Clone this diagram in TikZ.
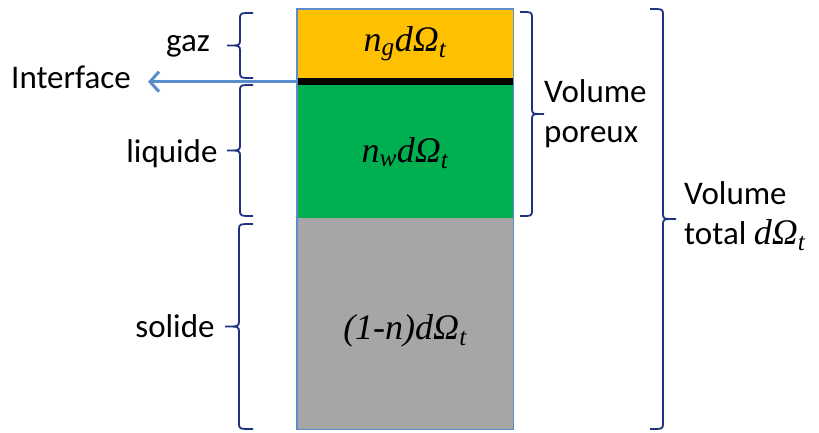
\documentclass[tikz,border=0pt]{standalone}
\usepackage{fontspec}
\setmainfont{Carlito}
\newfontfamily\mfont{Liberation Serif}
\usetikzlibrary{arrows.meta}
\definecolor{gasc}{RGB}{255,192,0}
\definecolor{liqc}{RGB}{0,176,80}
\definecolor{solc}{RGB}{166,166,166}
\definecolor{edgec}{RGB}{91,141,206}
\definecolor{bracec}{RGB}{30,50,130}
\newcommand{\mybrace}[4]{% x, y1, y2, tipx
  \draw[bracestyle] ({#1+(#1-#4)},#2) .. controls (#1,#2) .. (#1,{#2+6})
   -- (#1,{(#2+#3)/2-6}) .. controls (#1,{(#2+#3)/2}) .. (#4,{(#2+#3)/2})
   .. controls (#1,{(#2+#3)/2}) .. (#1,{(#2+#3)/2+6})
   -- (#1,{#3-6}) .. controls (#1,#3) .. ({#1+(#1-#4)},#3);}
\tikzset{
  bracestyle/.style={draw=bracec, line width=1.8pt},
  layer/.style={draw=none, inner sep=0pt, anchor=north west},
  lbl/.style={font=\fontsize{33}{40}\selectfont, inner sep=0pt},
  mlbl/.style={font=\fontsize{36}{40}\selectfont\mfont\itshape, inner sep=0pt},
}
\begin{document}
\begin{tikzpicture}[x=1pt,y=-1pt]
\useasboundingbox (0,0) rectangle (819,433);
% layers
\node[layer, fill=gasc, minimum width=216pt, minimum height=69pt] (gas) at (297,9) {};
\node[layer, fill=black, minimum width=216pt, minimum height=7pt] (iface) at (297,78) {};
\node[layer, fill=liqc, minimum width=216pt, minimum height=133pt] (liq) at (297,85) {};
\node[layer, fill=solc, minimum width=216pt, minimum height=211pt] (sol) at (297,218) {};
\draw[edgec, line width=1.5pt] (gas.north west) rectangle (sol.south east);
% layer texts
\node[mlbl] (tg) at (405,44) {n\textsubscript{g}dΩ\textsubscript{t}};
\node[mlbl] (tw) at (405,153) {n\textsubscript{w}dΩ\textsubscript{t}};
\node[mlbl] (ts) at (405,331) {(1-n)dΩ\textsubscript{t}};
% left labels
\node[lbl] (lg) at (188,46) {gaz};
\node[lbl] (li) at (71,77) {Interface};
\node[lbl] (ll) at (172,154) {liquide};
\node[lbl] (ls) at (175,326) {solide};
% right labels
\node[lbl, anchor=west, align=left] (vp) at (544,114) {Volume\\poreux};
\node[lbl, anchor=west, align=left] (vt) at (684,216) {Volume\\total {\mfont\itshape\fontsize{36}{40}\selectfont dΩ\textsubscript{t}}};
% interface arrow
\coordinate (ae) at (148,0);
\draw[edgec, line width=3pt, -{Straight Barb[length=9pt,width=20pt]}] (iface.west) -- (iface.west -| ae);
% braces
\mybrace{240}{13}{78}{227}
\mybrace{240}{85}{216}{227}
\mybrace{239}{224}{429}{225}
\mybrace{532}{12}{216}{544}
\mybrace{663}{9}{429}{676}
\end{tikzpicture}
\end{document}
